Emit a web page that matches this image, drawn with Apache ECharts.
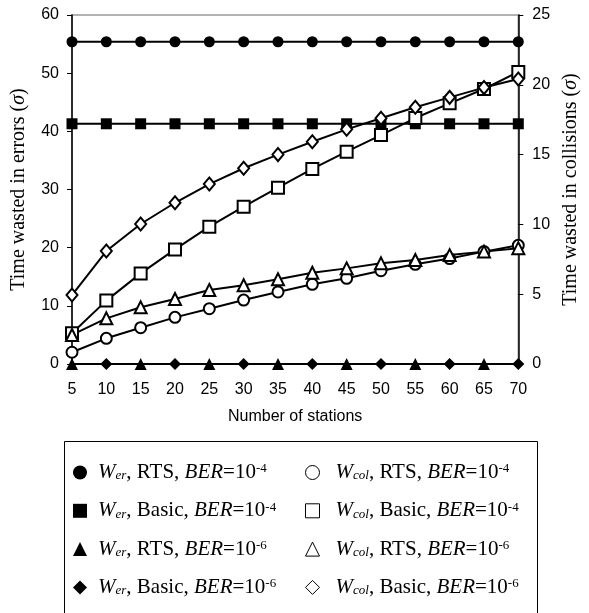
<!DOCTYPE html>
<html>
<head>
<meta charset="UTF-8">
<title>Time wasted in errors and collisions</title>
<script src="https://cdn.jsdelivr.net/npm/echarts@6/dist/echarts.min.js"></script>
<style>
  * { margin: 0; padding: 0; }
  html, body { width: 589px; height: 613px; background: #fff; overflow: hidden; }
  #chart { width: 589px; height: 613px; }
</style>
</head>
<body>
<div id="chart"></div>
<script>
// number of stations
const stations = [5, 10, 15, 20, 25, 30, 35, 40, 45, 50, 55, 60, 65, 70];

// W_er series, left axis (errors)
const werRts4 = [55.4, 55.4, 55.4, 55.4, 55.4, 55.4, 55.4, 55.4, 55.4, 55.4, 55.4, 55.4, 55.4, 55.4];
const werBasic4 = [41.3, 41.3, 41.3, 41.3, 41.3, 41.3, 41.3, 41.3, 41.3, 41.3, 41.3, 41.3, 41.3, 41.3];
const werRts6 = [0, 0, 0, 0, 0, 0, 0, 0, 0, 0, 0, 0, 0, 0];
const werBasic6 = [0, 0, 0, 0, 0, 0, 0, 0, 0, 0, 0, 0, 0, 0];

// W_col series, right axis (collisions)
const colRts4 = [0.84, 1.84, 2.6, 3.34, 3.96, 4.58, 5.16, 5.71, 6.14, 6.68, 7.14, 7.55, 8.05, 8.5];
const colBasic4 = [2.2, 4.54, 6.49, 8.21, 9.84, 11.27, 12.63, 13.97, 15.21, 16.4, 17.62, 18.67, 19.7, 20.92];
const colRts6 = [2.08, 3.27, 4.06, 4.66, 5.3, 5.64, 6.07, 6.54, 6.85, 7.21, 7.45, 7.8, 8.05, 8.3];
const colBasic6 = [4.94, 8.09, 10.03, 11.55, 12.89, 14.02, 15.0, 15.92, 16.81, 17.6, 18.39, 19.1, 19.8, 20.42];

const leftTicks = { min: 0, max: 60, interval: 10 };
const rightTicks = { min: 0, max: 25, interval: 5 };

const SERIF = 'Liberation Serif';
const SANS = 'Liberation Sans';

function label(sub, mode, exp) {
  return '{gap| }{i|W}{sub|' + sub + '}{n|, ' + mode + ', }{i|BER}{n|=10}{sup|' + exp + '}';
}

const names = {
  werRts4: 'Wer RTS 1e-4', werBasic4: 'Wer Basic 1e-4', werRts6: 'Wer RTS 1e-6', werBasic6: 'Wer Basic 1e-6',
  colRts4: 'Wcol RTS 1e-4', colBasic4: 'Wcol Basic 1e-4', colRts6: 'Wcol RTS 1e-6', colBasic6: 'Wcol Basic 1e-6'
};
const labels = {};
labels[names.werRts4] = label('er', 'RTS', '-4');
labels[names.werBasic4] = label('er', 'Basic', '-4');
labels[names.werRts6] = label('er', 'RTS', '-6');
labels[names.werBasic6] = label('er', 'Basic', '-6');
labels[names.colRts4] = label('col', 'RTS', '-4');
labels[names.colBasic4] = label('col', 'Basic', '-4');
labels[names.colRts6] = label('col', 'RTS', '-6');
labels[names.colBasic6] = label('col', 'Basic', '-6');

function richStyles(gap) {
  return {
    gap: { width: gap, fontSize: 21, lineHeight: 20 },
    n: { fontFamily: SERIF, fontSize: 21, color: '#000', lineHeight: 20 },
    i: { fontFamily: SERIF, fontSize: 21, fontStyle: 'italic', color: '#000', lineHeight: 20 },
    sub: { fontFamily: SERIF, fontSize: 13, fontStyle: 'italic', color: '#000', lineHeight: 12, verticalAlign: 'bottom' },
    sup: { fontFamily: SERIF, fontSize: 13, color: '#000', lineHeight: 12, verticalAlign: 'top' }
  };
}

function filled(name, data, symbol, size) {
  return {
    name: name, type: 'line', yAxisIndex: 0, data: data,
    symbol: symbol, symbolSize: size, showAllSymbol: true,
    itemStyle: { color: '#000' },
    lineStyle: { color: '#000', width: 2 },
    emphasis: { disabled: true }
  };
}
function open(name, data, symbol, size) {
  return {
    name: name, type: 'line', yAxisIndex: 1, data: data,
    symbol: symbol, symbolSize: size, showAllSymbol: true,
    itemStyle: { color: '#fff', borderColor: '#000', borderWidth: 2 },
    lineStyle: { color: '#000', width: 2 },
    emphasis: { disabled: true }
  };
}
// the two zero lines show their markers at alternate stations
function alternate(data, start) {
  return data.map((v, i) => (i % 2 === start) ? v : { value: v, symbol: 'none' });
}

const axisName = { fontFamily: SERIF, fontSize: 20, color: '#000',
  rich: { s: { fontFamily: SERIF, fontSize: 20, fontStyle: 'italic', color: '#000' } } };
const tickLabel = { fontFamily: SANS, fontSize: 16, color: '#000' };

const filledIcon = { color: '#000', borderWidth: 0 };
const openIcon = { color: '#fff', borderColor: '#000', borderWidth: 1 };

const chart = echarts.init(document.getElementById('chart'), null, { renderer: 'canvas' });
chart.setOption({
  animation: false,
  backgroundColor: '#fff',
  grid: { left: 72, right: 68, top: 15, bottom: 249, show: true, borderColor: '#999', borderWidth: 1.5, backgroundColor: 'transparent' },
  xAxis: {
    type: 'category', data: stations, boundaryGap: false,
    axisLine: { lineStyle: { color: '#000', width: 1.5 } },
    axisTick: { show: false },
    axisLabel: Object.assign({ interval: 0, margin: 18 }, tickLabel),
    name: 'Number of stations', nameLocation: 'middle', nameGap: 45,
    nameTextStyle: { fontFamily: SANS, fontSize: 16, color: '#000' }
  },
  yAxis: [
    Object.assign({
      type: 'value', position: 'left',
      axisLine: { show: true, lineStyle: { color: '#000', width: 1.5 } },
      axisTick: { show: true, length: 5, lineStyle: { color: '#000' } },
      axisLabel: Object.assign({ margin: 13 }, tickLabel),
      splitLine: { show: false },
      name: 'Time wasted in errors ({s|σ})', nameLocation: 'middle', nameRotate: 90, nameGap: 43,
      nameTextStyle: axisName
    }, leftTicks),
    Object.assign({
      type: 'value', position: 'right',
      axisLine: { show: true, lineStyle: { color: '#000', width: 1.5 } },
      axisTick: { show: true, length: 5, lineStyle: { color: '#000' } },
      axisLabel: Object.assign({ margin: 14 }, tickLabel),
      splitLine: { show: false },
      name: 'Time wasted in collisions ({s|σ})', nameLocation: 'middle', nameRotate: 90, nameGap: 35,
      nameTextStyle: axisName
    }, rightTicks)
  ],
  legend: [
    {
      orient: 'vertical', left: 68, top: 457, itemWidth: 14, itemHeight: 14, itemGap: 17.3,
      selectedMode: false,
      formatter: n => labels[n],
      textStyle: { rich: richStyles(6) },
      data: [
        { name: names.werRts4, icon: 'circle', itemStyle: filledIcon },
        { name: names.werBasic4, icon: 'rect', itemStyle: filledIcon },
        { name: names.werRts6, icon: 'triangle', itemStyle: filledIcon },
        { name: names.werBasic6, icon: 'diamond', itemStyle: filledIcon }
      ]
    },
    {
      orient: 'vertical', left: 300, top: 457, itemWidth: 14, itemHeight: 14, itemGap: 17.3,
      selectedMode: false,
      formatter: n => labels[n],
      textStyle: { rich: richStyles(11) },
      data: [
        { name: names.colRts4, icon: 'circle', itemStyle: openIcon },
        { name: names.colBasic4, icon: 'rect', itemStyle: openIcon },
        { name: names.colRts6, icon: 'triangle', itemStyle: openIcon },
        { name: names.colBasic6, icon: 'diamond', itemStyle: openIcon }
      ]
    }
  ],
  graphic: [
    { type: 'rect', left: 62, top: 439, shape: { width: 473, height: 190 },
      style: { fill: 'none', stroke: '#000', lineWidth: 1 }, silent: true }
  ],
  series: [
    filled(names.werRts4, werRts4, 'circle', 11),
    filled(names.werBasic4, werBasic4, 'rect', 11),
    filled(names.werRts6, alternate(werRts6, 0), 'triangle', 12),
    filled(names.werBasic6, alternate(werBasic6, 1), 'diamond', 12),
    open(names.colRts4, colRts4, 'circle', 11),
    open(names.colBasic4, colBasic4, 'rect', 12),
    open(names.colRts6, colRts6, 'triangle', 12),
    open(names.colBasic6, colBasic6, 'diamond', [11, 13])
  ]
});
</script>
</body>
</html>
